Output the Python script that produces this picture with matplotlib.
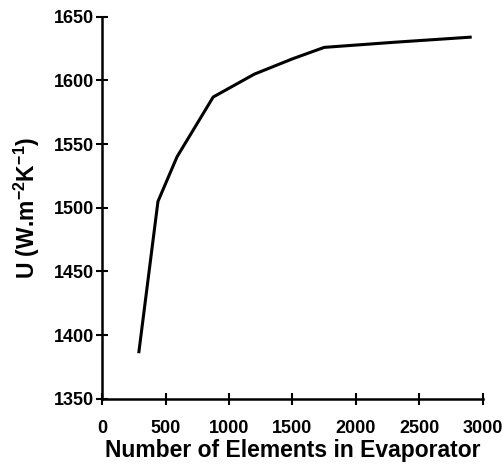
import matplotlib
matplotlib.use("Agg")
import matplotlib.pyplot as plt

# values
n_elements = [290, 440, 590, 875, 1200, 1500, 1750, 2300, 2900]
u_values = [1387, 1505, 1540, 1587, 1605, 1617, 1626, 1630, 1634]

x_ticks = [0, 500, 1000, 1500, 2000, 2500, 3000]
y_ticks = [1350, 1400, 1450, 1500, 1550, 1600, 1650]

plt.rcParams['font.family'] = ['Liberation Sans', 'DejaVu Sans']
plt.rcParams['font.weight'] = 'bold'
plt.rcParams['mathtext.fontset'] = 'custom'
plt.rcParams['mathtext.rm'] = 'Liberation Sans:bold'
plt.rcParams['mathtext.it'] = 'Liberation Sans:bold'
plt.rcParams['mathtext.bf'] = 'Liberation Sans:bold'

fig = plt.figure(figsize=(5.03, 4.67), dpi=100)
ax = fig.add_axes([0.203, 0.146, 0.757, 0.818])

ax.plot(n_elements, u_values, color='black', lw=2.2, solid_joinstyle='miter')

ax.set_xlim(0, 3000)
ax.set_ylim(1350, 1650)
ax.set_xticks(x_ticks)
ax.set_yticks(y_ticks)

for side in ['top', 'right']:
    ax.spines[side].set_visible(False)
for side in ['left', 'bottom']:
    ax.spines[side].set_linewidth(1.8)

ax.tick_params(direction='inout', length=9, width=1.5, labelsize=13, pad=1)
ax.tick_params(axis='x', pad=11)

ax.set_xlabel('Number of Elements in Evaporator', fontsize=16.5, fontweight='bold', labelpad=1)
ax.set_ylabel(r'U (W.m$^{-2}$K$^{-1}$)', fontsize=16.5, fontweight='bold', labelpad=9)

fig.savefig('out.png', dpi=100)
